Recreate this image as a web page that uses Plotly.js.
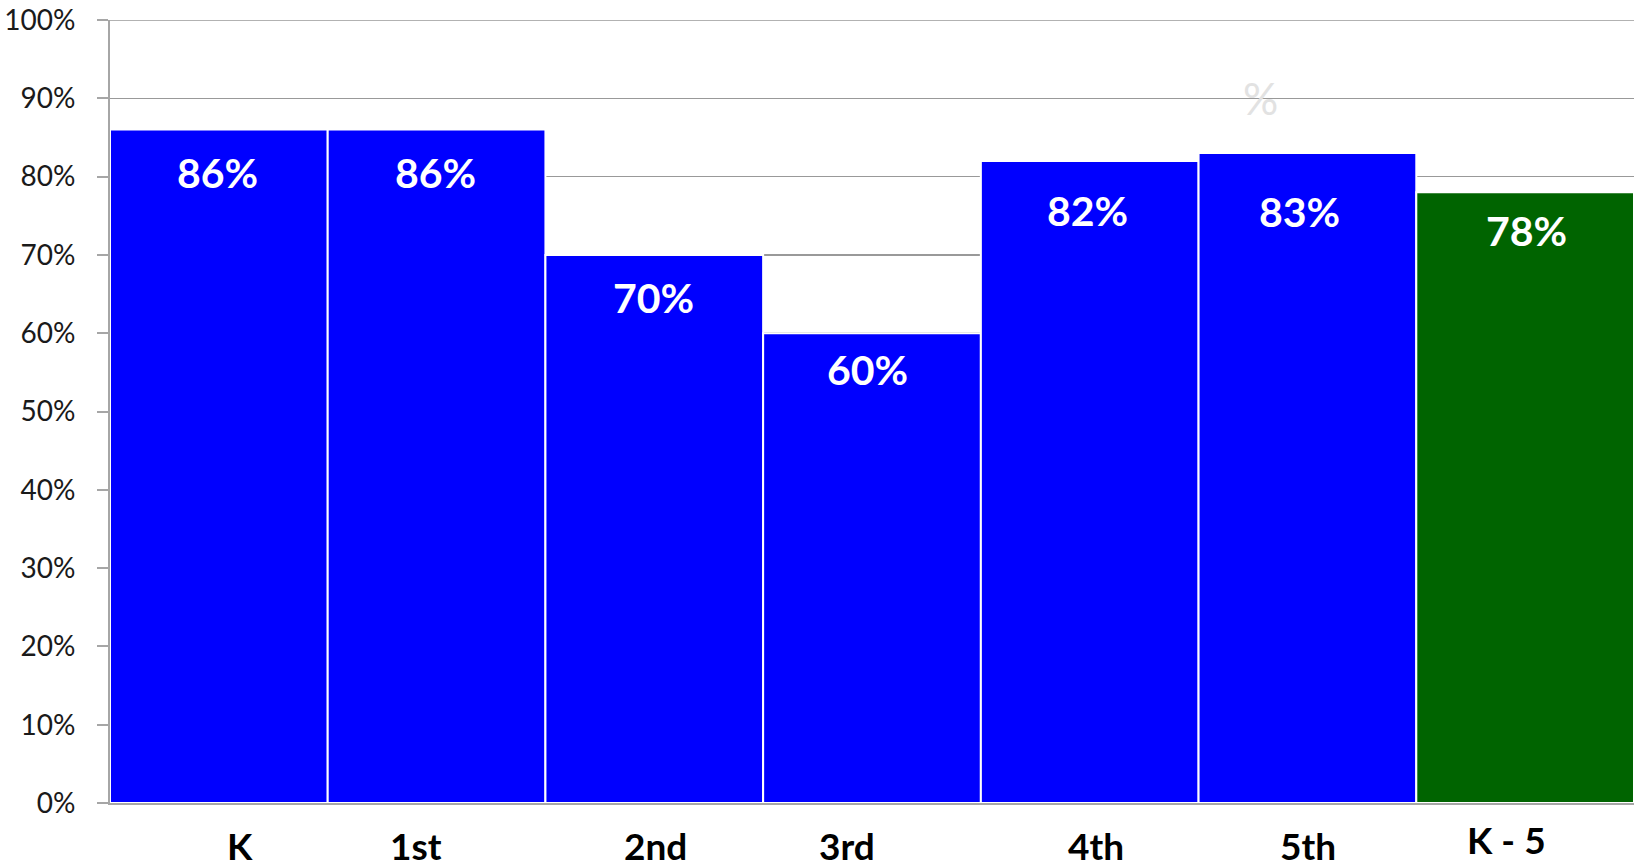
<!DOCTYPE html>
<html>
<head>
<meta charset="utf-8">
<script src="https://cdn.plot.ly/plotly-3.0.1.min.js"></script>
<style>html,body{margin:0;padding:0;background:#fff;}#chart{width:1639px;height:868px;}</style>
</head>
<body>
<div id="chart"></div>
<script>
// Data
const categories = ["K", "1st", "2nd", "3rd", "4th", "5th", "K - 5"];
const values = [0.86, 0.86, 0.70, 0.60, 0.82, 0.83, 0.78];
const valueLabels = ["86%", "86%", "70%", "60%", "82%", "83%", "78%"];
const tickVals = [0, 0.1, 0.2, 0.3, 0.4, 0.5, 0.6, 0.7, 0.8, 0.9, 1.0];
const tickText = ["0%", "10%", "20%", "30%", "40%", "50%", "60%", "70%", "80%", "90%", "100%"];

// Styles (offsets in pixels)
const barColors = ["#0000FF", "#0000FF", "#0000FF", "#0000FF", "#0000FF", "#0000FF", "#006400"];
const labelYShift = [-43, -43, -43, -36, -50, -58, -38];
const labelXShift = [-1, -1, -1, -5, -2, -8, 1];
const catXShift = [21, -21, 1, -25, 6, 1, -19];
const catYShift = [-42, -42, -42, -42, -42, -42, -36];

const trace = {
  type: "bar",
  x: categories,
  y: values,
  marker: { color: barColors, line: { color: "#ffffff", width: 2 } },
  hoverinfo: "skip"
};

const annotations = [];
categories.forEach((c, i) => {
  annotations.push({
    xref: "x", yref: "y", x: c, y: values[i],
    text: "<b>" + valueLabels[i] + "</b>", showarrow: false,
    yanchor: "middle", xanchor: "center",
    yshift: labelYShift[i], xshift: labelXShift[i],
    font: { family: "Lato, 'Open Sans', sans-serif", size: 41, color: "#ffffff" }
  });
  annotations.push({
    xref: "x", yref: "y", x: c, y: 0,
    text: "<b>" + c + "</b>", showarrow: false,
    yanchor: "middle", xanchor: "center",
    yshift: catYShift[i], xshift: catXShift[i],
    font: { family: "Lato, 'Open Sans', sans-serif", size: 37, color: "#000000" }
  });
});
// faint stray percent sign seen in the source image
annotations.push({
  xref: "x", yref: "y", x: "5th", y: 0.9,
  text: "%", showarrow: false, xanchor: "center", yanchor: "middle",
  xshift: -47, yshift: 0,
  font: { family: "Lato, sans-serif", size: 44, color: "#e2e2e2" }
});

const layout = {
  width: 1639, height: 868,
  margin: { l: 110, r: 5, t: 20, b: 65 },
  paper_bgcolor: "#ffffff", plot_bgcolor: "#ffffff",
  bargap: 0,
  showlegend: false,
  xaxis: {
    type: "category",
    showticklabels: false,
    showgrid: false,
    showline: true, linecolor: "#a6a6a6", linewidth: 2,
    ticks: "", zeroline: false
  },
  yaxis: {
    range: [0, 1],
    tickvals: tickVals, ticktext: tickText,
    showgrid: true, gridcolor: "#999999", gridwidth: 1.5,
    showline: true, linecolor: "#a6a6a6", linewidth: 2,
    ticks: "outside", ticklen: 11, tickcolor: "#a6a6a6", tickwidth: 2,
    ticklabelstandoff: 16,
    tickfont: { family: "Lato, 'Open Sans', sans-serif", size: 28, color: "#1a1a1a" },
    zeroline: false, fixedrange: true
  },
  shapes: [{
    type: "line", xref: "paper", yref: "y", x0: 0, x1: 1, y0: 1, y1: 1,
    line: { color: "#999999", width: 1.5 }, layer: "below"
  }],
  annotations: annotations
};

Plotly.newPlot("chart", [trace], layout, { displayModeBar: false, staticPlot: true });
</script>
</body>
</html>
